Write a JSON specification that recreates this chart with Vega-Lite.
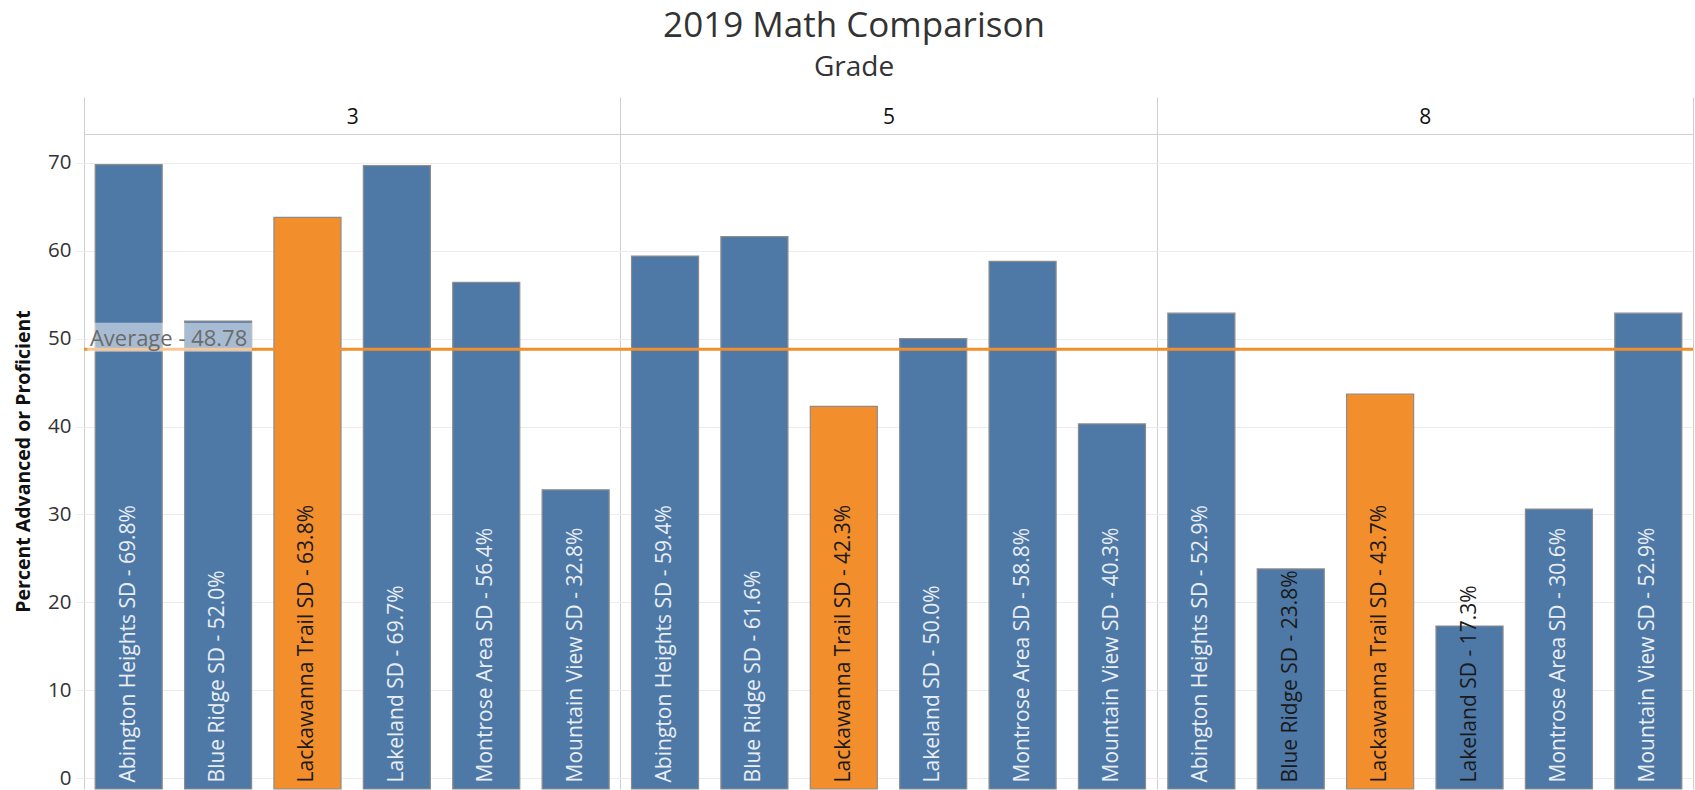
{
  "$schema": "https://vega.github.io/schema/vega-lite/v6.json",
  "width": 1695,
  "height": 790,
  "autosize": {"type": "fit", "contains": "padding"},
  "padding": {"left": 13, "top": 9, "right": 0, "bottom": 0},
  "background": "white",
  "title": {
    "text": "2019 Math Comparison",
    "subtitle": "Grade",
    "anchor": "middle",
    "frame": "bounds",
    "font": "Open Sans",
    "fontSize": 35,
    "fontWeight": "normal",
    "color": "#333333",
    "subtitleFont": "Open Sans",
    "subtitleFontSize": 28,
    "subtitleColor": "#333333",
    "subtitlePadding": 10,
    "offset": 15
  },
  "config": {"view": {"stroke": null}, "font": "Open Sans"},
  "data": {
    "values": [
      {"grade": 3, "district": "Abington Heights SD", "value": 69.8},
      {"grade": 3, "district": "Blue Ridge SD", "value": 52.0},
      {"grade": 3, "district": "Lackawanna Trail SD", "value": 63.8},
      {"grade": 3, "district": "Lakeland SD", "value": 69.7},
      {"grade": 3, "district": "Montrose Area SD", "value": 56.4},
      {"grade": 3, "district": "Mountain View SD", "value": 32.8},
      {"grade": 5, "district": "Abington Heights SD", "value": 59.4},
      {"grade": 5, "district": "Blue Ridge SD", "value": 61.6},
      {"grade": 5, "district": "Lackawanna Trail SD", "value": 42.3},
      {"grade": 5, "district": "Lakeland SD", "value": 50.0},
      {"grade": 5, "district": "Montrose Area SD", "value": 58.8},
      {"grade": 5, "district": "Mountain View SD", "value": 40.3},
      {"grade": 8, "district": "Abington Heights SD", "value": 52.9},
      {"grade": 8, "district": "Blue Ridge SD", "value": 23.8},
      {"grade": 8, "district": "Lackawanna Trail SD", "value": 43.7},
      {"grade": 8, "district": "Lakeland SD", "value": 17.3},
      {"grade": 8, "district": "Montrose Area SD", "value": 30.6},
      {"grade": 8, "district": "Mountain View SD", "value": 52.9}
    ]
  },
  "transform": [
    {"calculate": "datum.district + ' - ' + format(datum.value, '.1f') + '%'", "as": "label"},
    {"joinaggregate": [{"op": "mean", "field": "value", "as": "avg"}]}
  ],
  "layer": [
    {
      "mark": {"type": "bar", "stroke": "#8c8c8c", "strokeWidth": 1.2},
      "encoding": {
        "x": {
          "field": "grade",
          "type": "ordinal",
          "scale": {"paddingInner": 0, "paddingOuter": 0},
          "axis": {
            "orient": "top",
            "title": null,
            "labelAngle": 0,
            "offset": -37,
            "ticks": false,
            "tickBand": "extent",
            "grid": true,
            "gridColor": "#cfcfcf",
            "domainColor": "#cfcfcf",
            "labelFontSize": 21,
            "labelColor": "#111111",
            "labelPadding": 7,
            "labelFont": "Open Sans"
          }
        },
        "xOffset": {
          "field": "district",
          "type": "nominal",
          "scale": {"paddingInner": 0.25, "paddingOuter": 0.125}
        },
        "y": {
          "field": "value",
          "type": "quantitative",
          "scale": {"domain": [-1.25, 77.5], "nice": false, "zero": false},
          "axis": {
            "title": "Percent Advanced or Proficient",
            "values": [0, 10, 20, 30, 40, 50, 60, 70],
            "grid": true,
            "gridColor": "#ececec",
            "domain": false,
            "tickColor": "#ececec",
            "tickSize": 8,
            "labelFontSize": 20.5,
            "labelColor": "#333333",
            "labelPadding": 5,
            "labelFont": "Open Sans",
            "titleFont": "Open Sans",
            "titleFontSize": 19.5,
            "titleFontWeight": "bold",
            "titleColor": "#111111",
            "titlePadding": 14,
            "titleY": 364
          }
        },
        "y2": {"datum": -1.25},
        "color": {
          "condition": {"test": "datum.district == 'Lackawanna Trail SD'", "value": "#F28E2B"},
          "value": "#4E79A7"
        }
      }
    },
    {
      "mark": {"type": "text", "angle": 270, "align": "left", "baseline": "middle", "fontSize": 21, "font": "Open Sans"},
      "encoding": {
        "x": {"field": "grade", "type": "ordinal"},
        "xOffset": {"field": "district", "type": "nominal"},
        "y": {"datum": -0.5},
        "text": {"field": "label"},
        "color": {
          "condition": {"test": "datum.district == 'Lackawanna Trail SD' || datum.value < 25", "value": "#1a1a1a"},
          "value": "#e9eef5"
        }
      }
    },
    {
      "mark": {"type": "rule", "color": "#F28E2B", "strokeWidth": 3},
      "encoding": {
        "y": {"aggregate": "mean", "field": "value", "type": "quantitative"}
      }
    },
    {
      "transform": [{"filter": "datum.grade == 3 && datum.district == 'Abington Heights SD'"}],
      "mark": {"type": "rect", "color": "white", "opacity": 0.5},
      "encoding": {
        "x": {"datum": 3, "type": "ordinal", "bandPosition": 0.006},
        "x2": {"datum": 3, "bandPosition": 0.313},
        "y": {"datum": 48.5},
        "y2": {"datum": 51.8}
      }
    },
    {
      "transform": [
        {"filter": "datum.grade == 3 && datum.district == 'Abington Heights SD'"},
        {"calculate": "'Average - ' + format(datum.avg, '.2f')", "as": "avglabel"}
      ],
      "mark": {"type": "text", "align": "left", "baseline": "alphabetic", "dy": -3, "fontSize": 22, "font": "Open Sans", "color": "#6b6b6b"},
      "encoding": {
        "x": {"datum": 3, "type": "ordinal", "bandPosition": 0.011},
        "y": {"field": "avg", "type": "quantitative"},
        "text": {"field": "avglabel"}
      }
    }
  ]
}
